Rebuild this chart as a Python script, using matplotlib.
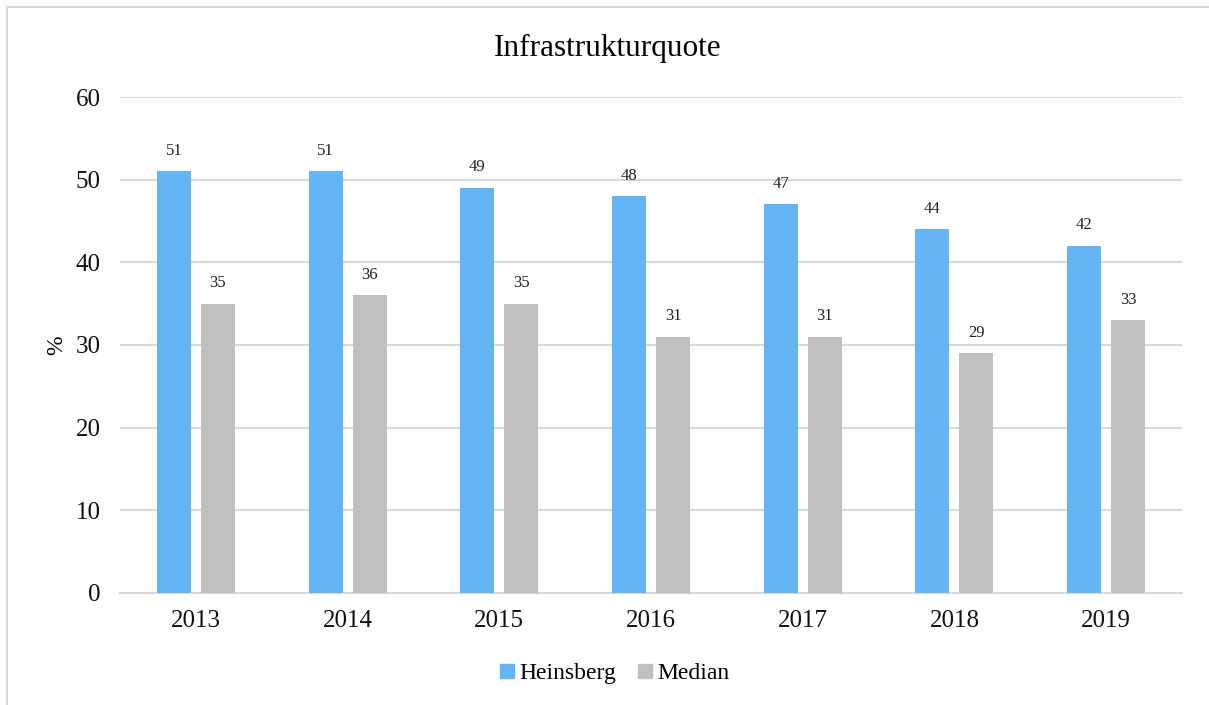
import matplotlib.pyplot as plt
import numpy as np
from matplotlib.lines import Line2D

plt.rcParams['font.family'] = ['Liberation Serif', 'DejaVu Serif']

years = ['2013', '2014', '2015', '2016', '2017', '2018', '2019']
heinsberg = [51, 51, 49, 48, 47, 44, 42]
median = [35, 36, 35, 31, 31, 29, 33]

blue = '#63B5F6'
grey = '#BFBFBF'

fig = plt.figure(figsize=(12.09, 7.05), dpi=100)
ax = fig.add_axes([0.0993, 0.1589, 0.8784, 0.7035])

x = np.arange(len(years))
w = 0.224
off = 0.145
b1 = ax.bar(x - off, heinsberg, w, color=blue, label='Heinsberg', zorder=3)
b2 = ax.bar(x + off, median, w, color=grey, label='Median', zorder=3)

# Werte über den Balken
for bars in (b1, b2):
    for r in bars:
        ax.annotate(f'{r.get_height():.0f}', (r.get_x() + r.get_width() / 2, r.get_height()),
                    xytext=(0, 9), textcoords='offset points', ha='center', va='bottom',
                    fontsize=12, color='#222222')

ax.set_xlim(-0.5, len(years) - 0.5)
ax.set_ylim(0, 60)
ax.set_yticks(range(0, 61, 10))
ax.set_xticks(x)
ax.set_xticklabels(years)
ax.tick_params(axis='both', length=0, labelsize=18, colors='#111111')
ax.tick_params(axis='y', pad=14)
ax.tick_params(axis='x', pad=12)
ax.yaxis.grid(True, color='#D9D9D9', linewidth=1.5, zorder=0)
for s in ['top', 'right', 'left']:
    ax.spines[s].set_visible(False)
ax.spines['bottom'].set_color('#D9D9D9')
ax.spines['bottom'].set_linewidth(1.5)

ax.set_ylabel('%', fontsize=17, labelpad=6)
fig.text(0.5027, 0.931, 'Infrastrukturquote', ha='center', va='center', fontsize=22.5)

# Legende unten
handles = [Line2D([], [], marker='s', linestyle='none', markersize=9.5, color=c) for c in (blue, grey)]
fig.legend(handles, ['Heinsberg', 'Median'], loc='center', bbox_to_anchor=(0.507, 0.045),
           ncol=2, frameon=False, fontsize=17, handletextpad=0.05, columnspacing=0.8,
           handlelength=0.9)

# Rahmen links und oben
fig.add_artist(Line2D([7 / 1209, 7 / 1209], [0, 1 - 7 / 705], color='#D9D9D9', lw=1.5, transform=fig.transFigure))
fig.add_artist(Line2D([7 / 1209, 1], [1 - 7 / 705, 1 - 7 / 705], color='#D9D9D9', lw=1.5, transform=fig.transFigure))

fig.savefig('out.png', dpi=100)
